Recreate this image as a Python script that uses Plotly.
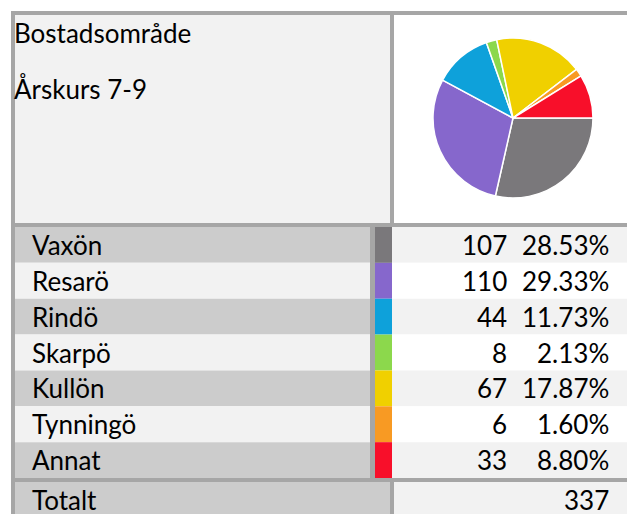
import plotly.graph_objects as go

# Bostadsområde, årskurs 7-9
rubrik = "Bostadsområde"
underrubrik = "Årskurs 7-9"
omraden = ["Vaxön", "Resarö", "Rindö", "Skarpö", "Kullön", "Tynningö", "Annat"]
antal = [107, 110, 44, 8, 67, 6, 33]
farger = ["#7a787b", "#8667cc", "#0ea1da", "#8cd84c", "#f0d000", "#f89a23", "#f80f2a"]
totalt_etikett = "Totalt"
totalt = [337]

summa = sum(antal)
procent = [f"{100 * n / summa:.2f}%" for n in antal]

W, H = 627, 514
FONT = "Lato"
FS = 26
KANT = "#a6a6a6"
MORK = "#cccccc"
LJUS = "#f2f2f2"
VIT = "#ffffff"

# grid geometry (pixel units on hidden axes)
x0, y0 = 11, 11
bw = 4
head_bot = 223
leg_top = head_bot + bw
n_rows = len(omraden)
row_h = 35.86
leg_bot = leg_top + n_rows * row_h
tot_top = leg_bot + bw
tot_bot = tot_top + row_h
col_sep = 390          # header / total separator
lab_end = 370          # label cell end in legend
sw0, sw1 = 375, 392    # colour swatch
num_right = 509
pct_right = 611

shapes = []


def rect(xa, ya, xb, yb, color):
    shapes.append(dict(type="rect", xref="x", yref="y", x0=xa, y0=ya, x1=xb, y1=yb,
                       fillcolor=color, line=dict(width=0), layer="below"))


# header
rect(x0 + bw, y0 + bw, col_sep, head_bot, LJUS)
rect(col_sep + bw, y0 + bw, W, head_bot, VIT)

# legend rows
for i, c in enumerate(farger):
    ya = leg_top + i * row_h
    yb = ya + row_h
    lab_bg = MORK if i % 2 == 0 else LJUS
    val_bg = LJUS if i % 2 == 0 else VIT
    rect(x0 + bw, ya, lab_end, yb, lab_bg)
    rect(sw1, ya, W, yb, val_bg)
    rect(sw0, ya, sw1, yb, c)
rect(lab_end, leg_top, sw0, leg_bot, KANT)

# total row
rect(x0 + bw, tot_top, col_sep, tot_bot, MORK)
rect(col_sep + bw, tot_top, W, tot_bot, LJUS)

# borders
rect(x0, y0, W, y0 + bw, KANT)
rect(x0, y0, x0 + bw, H + 5, KANT)
rect(x0, head_bot, W, leg_top, KANT)
rect(col_sep, y0, col_sep + bw, head_bot, KANT)
rect(x0, leg_bot, W, tot_top, KANT)
rect(col_sep, tot_top, col_sep + bw, tot_bot, KANT)

annotations = []


def txt(x, y, s, anchor):
    annotations.append(dict(x=x, y=y, xref="x", yref="y", text=s, showarrow=False,
                            xanchor=anchor, yanchor="middle",
                            font=dict(family=FONT, size=FS, color="#000000")))


txt(12, 33, rubrik, "left")
txt(12, 89, underrubrik, "left")
for i, (namn, n, p) in enumerate(zip(omraden, antal, procent)):
    yc = leg_top + (i + 0.5) * row_h
    txt(30, yc, namn, "left")
    txt(num_right, yc, str(n), "right")
    txt(pct_right, yc, p, "right")
yc = tot_top + 0.5 * row_h
txt(30, yc, totalt_etikett, "left")
txt(pct_right, yc, str(totalt[0]), "right")

# pie placement
cx, cy, r = 513, 118, 80

fig = go.Figure()
fig.add_trace(go.Scatter(x=[0, W], y=[0, H], mode="markers",
                         marker=dict(opacity=0), hoverinfo="skip", showlegend=False))
fig.add_trace(go.Pie(
    labels=omraden, values=antal, sort=False, direction="clockwise", rotation=90,
    marker=dict(colors=farger, line=dict(color="#ffffff", width=1.5)),
    textinfo="none", hoverinfo="label+value+percent", showlegend=False,
    domain=dict(x=[(cx - r) / W, (cx + r) / W], y=[1 - (cy + r) / H, 1 - (cy - r) / H]),
))
fig.update_layout(
    width=W, height=H, margin=dict(l=0, r=0, t=0, b=0),
    paper_bgcolor="#ffffff", plot_bgcolor="#ffffff",
    xaxis=dict(range=[0, W], visible=False, fixedrange=True),
    yaxis=dict(range=[H, 0], visible=False, fixedrange=True),
    shapes=shapes, annotations=annotations, showlegend=False,
)
fig.write_html("out.html")
